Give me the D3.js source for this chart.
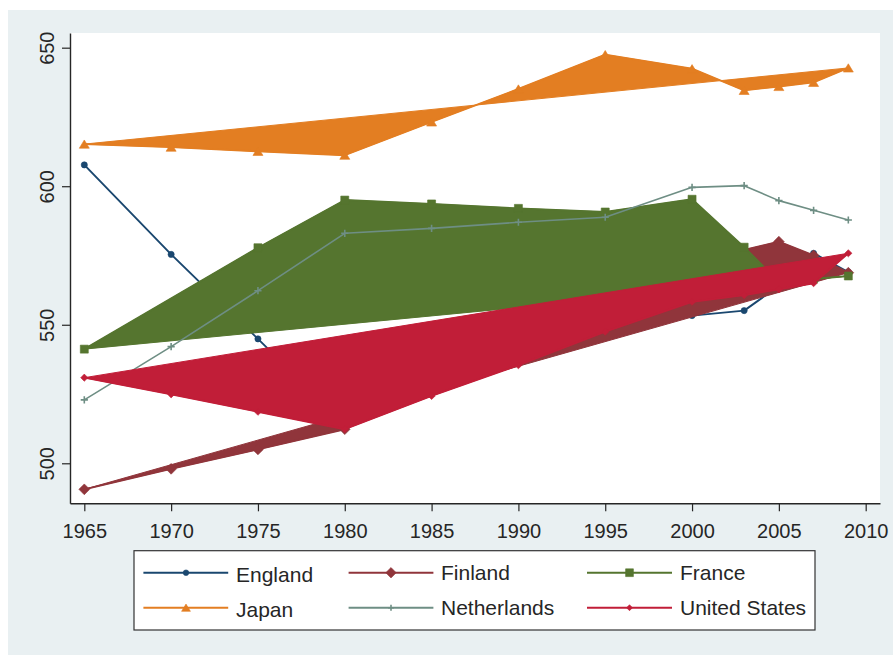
<!DOCTYPE html>
<html>
<head>
<meta charset="utf-8">
<script src="https://cdn.jsdelivr.net/npm/d3@7"></script>
<style>
  html, body { margin: 0; padding: 0; background: #ffffff; }
  svg { display: block; font-family: "Liberation Sans", Arial, Helvetica, sans-serif; }
</style>
</head>
<body>
<svg id="chart" width="893" height="655"></svg>
<script>
// Survey years and score series (null = no observation that year)
const years       = [1965, 1970, 1975, 1980, 1985, 1990, 1995, 2000, 2003, 2005, 2007, 2009];
const england     = [607.7, 575.4, 544.9, 514.0, 526.0, 537.0, 546.0, 553.3, 555.1, 564.0, 575.8, 569.0];
const finland     = [490.6, 498.0, 505.0, 512.3, 532.0, 545.0, 553.0, 562.0, 577.0, 580.0, 575.0, 568.8];
const france      = [541.2, null,  577.8, 595.0, 593.6, 592.0, 590.7, 595.3, 578.0, 565.5, 566.5, 567.6];
const japan       = [615.2, 614.1, 612.6, 611.2, 623.2, 635.1, 647.5, 642.4, 634.6, 636.0, 637.5, 642.7];
const netherlands = [522.9, 542.1, 562.3, 583.0, 584.8, 587.0, 588.8, 599.6, 600.2, 594.8, 591.3, 587.8];
const unitedStates= [530.9, 524.9, 518.6, 512.3, 524.3, 535.4, 547.5, 558.3, 560.7, 562.8, 565.0, 575.8];

const seriesNames = ["England", "Finland", "France", "Japan", "Netherlands", "United States"];
const xTickValues = [1965, 1970, 1975, 1980, 1985, 1990, 1995, 2000, 2005, 2010];
const yTickValues = [500, 550, 600, 650];

// Drawing styles per series, in legend / drawing order
const styles = [
  { color: "#1a476f", marker: "circle",  size: 3.1, filled: false, width: 1.9 },
  { color: "#90353b", marker: "diamond", size: 5.4, filled: true,  width: 1.9 },
  { color: "#55752f", marker: "square",  size: 4.0, filled: true,  width: 1.9 },
  { color: "#e37e22", marker: "triangle",size: 5.0, filled: true,  width: 1.9 },
  { color: "#6e8e84", marker: "plus",    size: 3.6, filled: false, width: 1.6 },
  { color: "#c11e38", marker: "diamond", size: 3.6, filled: true,  width: 1.9 }
];
const seriesValues = [england, finland, france, japan, netherlands, unitedStates];

const svg = d3.select("#chart");
const textColor = "#262626";

// Graph region background and white plot region
svg.append("rect").attr("x", 8).attr("y", 10).attr("width", 885).attr("height", 645).attr("fill", "#e9f0f2");
const plot = { left: 70, right: 880, top: 33, bottom: 503.3 };
svg.append("rect").attr("x", plot.left).attr("y", plot.top)
  .attr("width", plot.right - plot.left).attr("height", plot.bottom - plot.top).attr("fill", "#ffffff");

const x = d3.scaleLinear().domain([1964.176, 2010.824]).range([plot.left, plot.right]);
const y = d3.scaleLinear().domain([485.56, 655.3]).range([plot.bottom, plot.top]);

function markerPath(kind, s) {
  switch (kind) {
    case "circle": {
      const p = d3.path(); p.arc(0, 0, s, 0, 2 * Math.PI); return p.toString();
    }
    case "diamond":
      return `M0,${-s}L${s},0L0,${s}L${-s},0Z`;
    case "square":
      return `M${-s},${-s}H${s}V${s}H${-s}Z`;
    case "triangle": {
      const h = s * 1.65;
      return `M0,${-h / 2}L${s},${h / 2}L${-s},${h / 2}Z`;
    }
    case "plus":
      return `M${-s},0H${s}M0,${-s}V${s}`;
  }
}

function drawMarker(g, kind, s, color, cx, cy) {
  const m = g.append("path").attr("d", markerPath(kind, s))
    .attr("transform", `translate(${cx},${cy})`);
  if (kind === "plus") m.attr("fill", "none").attr("stroke", color).attr("stroke-width", 1.6);
  else m.attr("fill", color).attr("stroke", color).attr("stroke-width", 0.6);
}

const line = d3.line().x(d => x(d[0])).y(d => y(d[1]));
const layer = svg.append("g");

// Each series: optional closed area, connecting line, then markers
seriesValues.forEach((vals, i) => {
  const st = styles[i];
  const pts = years.map((yr, j) => [yr, vals[j]]).filter(d => d[1] !== null);
  const g = layer.append("g").attr("class", "series");
  if (st.filled) {
    g.append("path").attr("d", line(pts) + "Z")
      .attr("fill", st.color).attr("stroke", st.color).attr("stroke-width", 1)
      .attr("stroke-linejoin", "round");
  }
  g.append("path").attr("d", line(pts))
    .attr("fill", "none").attr("stroke", st.color).attr("stroke-width", st.width)
    .attr("stroke-linejoin", "round");
  pts.forEach(d => drawMarker(g, st.marker, st.size, st.color, x(d[0]), y(d[1])));
});

// Axes
const yAxis = d3.axisLeft(y).tickValues(yTickValues).tickSize(8).tickSizeOuter(0).tickFormat(d3.format("d"));
const xAxis = d3.axisBottom(x).tickValues(xTickValues).tickSize(8).tickSizeOuter(0).tickFormat(d3.format("d"));

const gy = svg.append("g").attr("transform", `translate(${plot.left},0)`).call(yAxis);
const gx = svg.append("g").attr("transform", `translate(0,${plot.bottom})`).call(xAxis);

[gx, gy].forEach(g => {
  g.select(".domain").attr("stroke", textColor).attr("stroke-width", 1.4);
  g.selectAll(".tick line").attr("stroke", textColor).attr("stroke-width", 1.2);
  g.selectAll(".tick text").attr("fill", textColor).style("font-size", "20px")
    .style("font-family", "\"Liberation Sans\", Arial, sans-serif");
});
gy.selectAll(".tick text")
  .attr("x", null).attr("dy", null)
  .attr("text-anchor", "middle")
  .attr("transform", "translate(-15.7,0) rotate(-90)");
gx.selectAll(".tick text").attr("y", 35).attr("dy", null);

// Legend
const legend = svg.append("g");
legend.append("rect").attr("x", 134).attr("y", 550.7).attr("width", 681).attr("height", 79.3)
  .attr("fill", "#ffffff").attr("stroke", "#333333").attr("stroke-width", 1.2);

const colX = [[143.4, 228.2, 186, 236], [348.6, 433.4, 391, 441], [587, 672, 629.5, 680]];
const rowY = [572.7, 607.7];
const legendSizes = [2.8, 5.2, 3.9, 4.4, 3.0, 3.0];

seriesNames.forEach((name, i) => {
  const st = styles[i];
  const c = colX[i % 3], ry = rowY[Math.floor(i / 3)];
  legend.append("line").attr("x1", c[0]).attr("x2", c[1]).attr("y1", ry).attr("y2", ry)
    .attr("stroke", st.color).attr("stroke-width", 1.9);
  drawMarker(legend, st.marker, legendSizes[i], st.color, c[2], ry);
  // labels with descenders sit slightly lower (text box centred on its ink)
  const drop = /[gjpqy]/.test(name) ? 2 : 0;
  legend.append("text").attr("x", c[3]).attr("y", ry + 7.5 + drop)
    .attr("fill", textColor).style("font-size", "21px").text(name);
});
</script>
</body>
</html>
